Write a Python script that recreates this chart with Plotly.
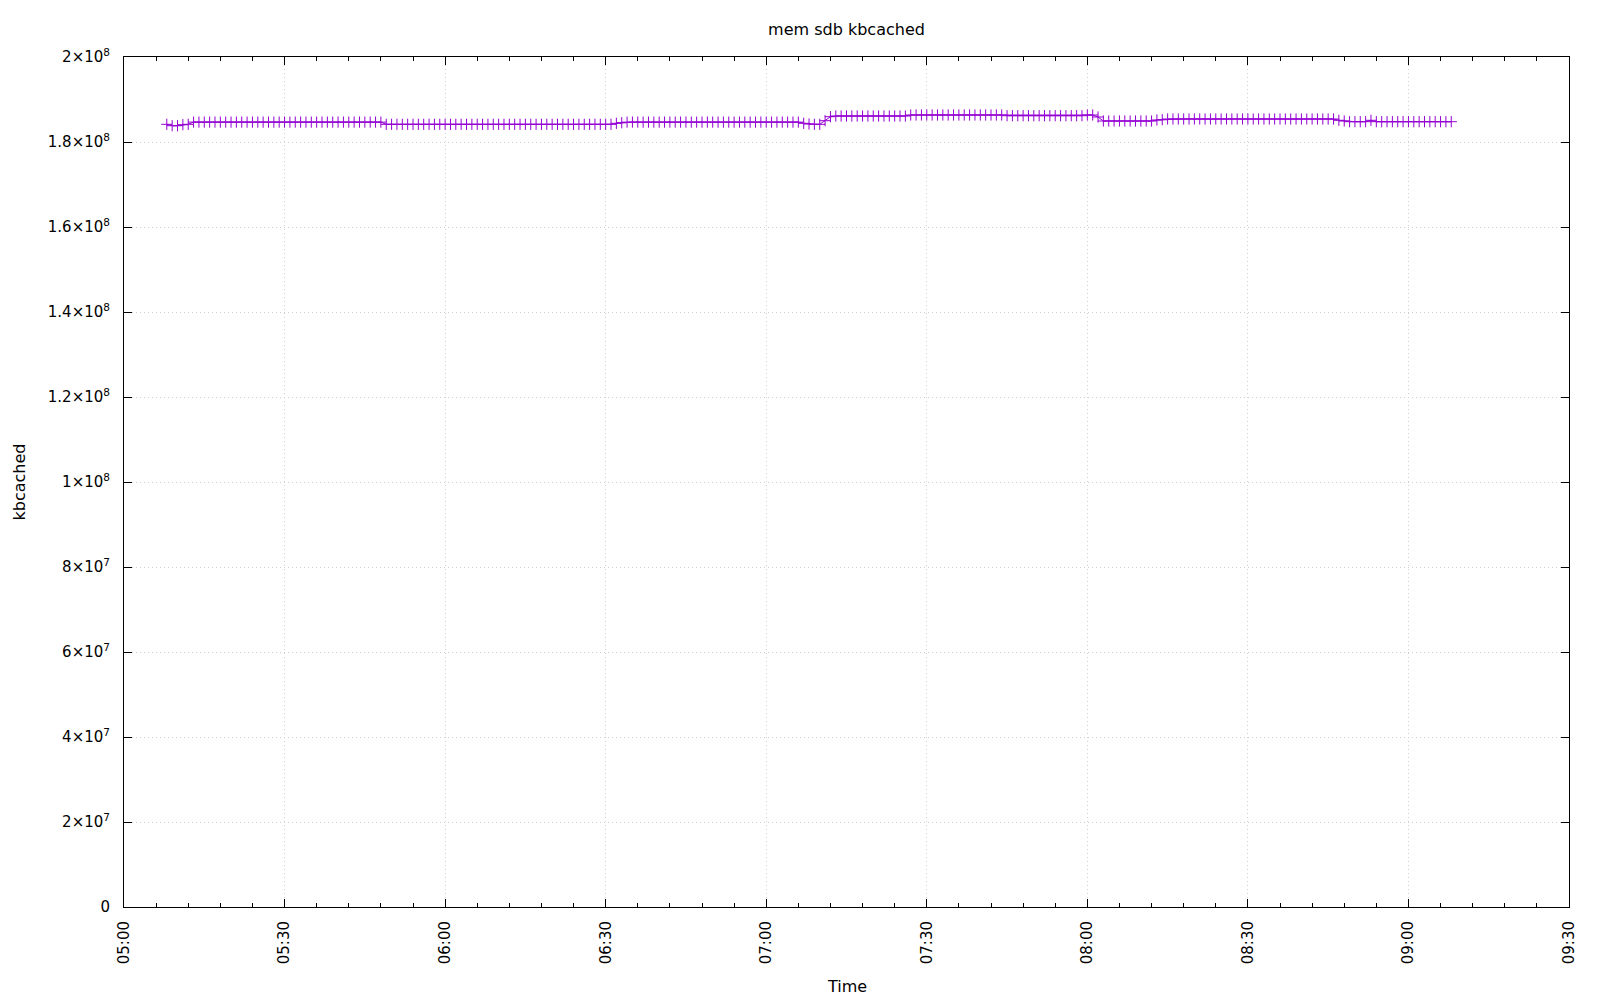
import pandas as pd
import plotly.graph_objects as go

# ---- data ----
start_time = "2024-01-01 05:08"   # first sample
sample_freq = "min"               # one sample per minute

kbcached = [
    184165000, 183835000, 183835000, 184071000, 184165000,
    184680000, 184680000, 184680000, 184680000, 184680000, 184680000,
    184680000, 184680000, 184680000, 184680000, 184680000, 184680000,
    184680000, 184680000, 184680000, 184680000, 184680000, 184680000,
    184680000, 184680000, 184680000, 184680000, 184680000, 184680000,
    184680000, 184680000, 184680000, 184680000, 184680000, 184680000,
    184680000, 184680000, 184680000, 184680000, 184680000, 184680000,
    184165000, 184165000, 184165000, 184165000, 184165000, 184165000,
    184165000, 184165000, 184165000, 184165000, 184165000, 184165000,
    184165000, 184165000, 184165000, 184165000, 184165000, 184165000,
    184165000, 184165000, 184165000, 184165000, 184165000, 184165000,
    184165000, 184165000, 184165000, 184165000, 184165000, 184165000,
    184165000, 184165000, 184165000, 184165000, 184165000, 184165000,
    184165000, 184165000, 184165000, 184165000, 184165000, 184165000,
    184165000,
    184400000, 184541000,
    184680000, 184680000, 184680000, 184680000, 184680000, 184680000,
    184680000, 184680000, 184680000, 184680000, 184680000, 184680000,
    184680000, 184680000, 184680000, 184680000, 184680000, 184680000,
    184680000, 184680000, 184680000, 184680000, 184680000, 184680000,
    184680000, 184680000, 184680000, 184680000, 184680000, 184680000,
    184680000, 184680000, 184680000,
    184400000, 184235000, 184165000, 184165000,
    185012000, 185953000,
    186118000, 186118000, 186118000, 186118000, 186118000, 186118000,
    186118000, 186118000, 186118000, 186118000, 186118000, 186118000,
    186118000, 186118000,
    186353000, 186353000, 186353000, 186353000, 186353000, 186353000,
    186353000, 186353000, 186353000, 186353000, 186353000, 186353000,
    186353000, 186353000, 186353000, 186353000, 186353000, 186353000,
    186188000, 186188000, 186188000, 186188000, 186188000, 186188000,
    186188000, 186188000, 186188000, 186188000, 186188000, 186188000,
    186188000, 186188000, 186188000,
    186353000, 186353000, 185882000,
    184941000, 184941000, 184941000, 184941000, 184941000, 184941000,
    184941000, 184941000, 184941000, 184941000,
    185176000, 185247000,
    185412000, 185412000, 185412000, 185412000, 185412000, 185412000,
    185412000, 185412000, 185412000, 185412000, 185412000, 185412000,
    185412000, 185412000, 185412000, 185412000, 185412000, 185412000,
    185412000, 185412000, 185412000, 185412000, 185412000, 185412000,
    185412000, 185412000, 185412000, 185412000, 185412000, 185412000,
    185412000, 185412000,
    185106000, 184941000,
    184776000, 184776000, 184776000, 184776000,
    185106000,
    184776000, 184776000, 184776000, 184776000, 184776000, 184776000,
    184776000, 184776000, 184776000, 184776000, 184776000, 184776000,
    184776000, 184776000, 184776000,
]

y_tickvals = [0, 2e7, 4e7, 6e7, 8e7, 1e8, 1.2e8, 1.4e8, 1.6e8, 1.8e8, 2e8]
y_ticktext = ["0", "2×10<sup>7</sup>", "4×10<sup>7</sup>", "6×10<sup>7</sup>",
              "8×10<sup>7</sup>", "1×10<sup>8</sup>", "1.2×10<sup>8</sup>",
              "1.4×10<sup>8</sup>", "1.6×10<sup>8</sup>", "1.8×10<sup>8</sup>",
              "2×10<sup>8</sup>"]

title_text = "mem sdb kbcached"
x_title = "Time"
y_title = "kbcached"
x_range = ["2024-01-01 05:00", "2024-01-01 09:30"]

times = pd.date_range(start_time, periods=len(kbcached), freq=sample_freq)

COLOR = "#9400D3"
FONT = "DejaVu Sans"
GRID = "#d0d0d0"
L, R, T, B = 124, 31, 57, 93
PW, PH = 1600 - L - R, 1000 - T - B

fig = go.Figure()
fig.add_trace(go.Scatter(
    x=times, y=kbcached, mode="lines+markers",
    line=dict(color=COLOR, width=1),
    marker=dict(symbol="cross-thin", size=8, color=COLOR,
                line=dict(color=COLOR, width=1)),
    showlegend=False,
))

fig.update_layout(
    width=1600, height=1000,
    margin=dict(l=L, r=R, t=T, b=B),
    plot_bgcolor="white", paper_bgcolor="white",
    font=dict(family=FONT, size=15, color="black"),
    title=dict(text=title_text, x=(L + PW / 2) / 1600, xanchor="center",
               y=1 - 29.5 / 1000, yanchor="middle", yref="container",
               font=dict(size=16, family=FONT, color="black")),
    annotations=[
        dict(text=x_title, xref="paper", yref="paper", x=0.5, y=(1000 - B - 986) / PH,
             xanchor="center", yanchor="middle", showarrow=False,
             font=dict(size=16, family=FONT, color="black")),
        dict(text=y_title, xref="paper", yref="paper", x=(18.5 - L) / PW, y=0.5,
             xanchor="center", yanchor="middle", showarrow=False, textangle=-90,
             font=dict(size=16, family=FONT, color="black")),
    ],
)

fig.update_xaxes(
    type="date", range=x_range,
    tick0="2024-01-01 05:00", dtick=30 * 60 * 1000, tickformat="%H:%M",
    tickangle=-90, ticks="inside", ticklen=8, tickcolor="black", tickwidth=1,
    showline=True, linecolor="black", linewidth=1, mirror="ticks",
    showgrid=True, gridcolor=GRID, griddash="1px,3px", gridwidth=1,
    zeroline=False,
    minor=dict(ticks="inside", ticklen=4, tickcolor="black", dtick=6 * 60 * 1000,
               tick0="2024-01-01 05:00", showgrid=False),
    ticklabelstandoff=7,
)
fig.update_yaxes(
    range=[0, 2e8], tickvals=y_tickvals, ticktext=y_ticktext,
    ticks="inside", ticklen=8, tickcolor="black", tickwidth=1,
    showline=True, linecolor="black", linewidth=1, mirror="ticks",
    showgrid=True, gridcolor=GRID, griddash="1px,3px", gridwidth=1,
    zeroline=False, ticklabelstandoff=10,
)

fig.write_html("out.html", config={"displayModeBar": False},
               post_script="document.body.style.margin='0';document.body.style.overflow='hidden';")
